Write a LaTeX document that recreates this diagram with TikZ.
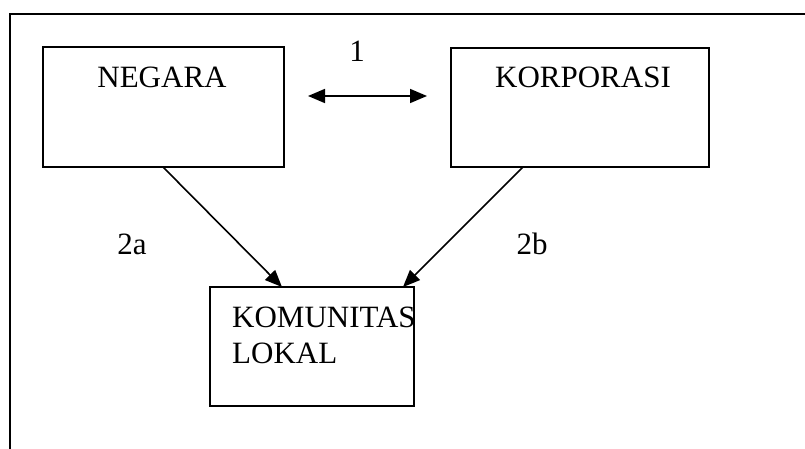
\documentclass[tikz,border=0pt]{standalone}
\usepackage{fontspec}
\setmainfont{Liberation Serif}
\usetikzlibrary{arrows.meta}
\tikzset{
  box/.style={draw, line width=1.8pt, inner sep=0pt},
  lbl/.style={font=\fontsize{31}{36}\selectfont, inner sep=0pt, anchor=base},
  conn/.style={line width=1.6pt, -{Triangle[length=17pt,width=14pt]}},
  frame/.style={line width=2.4pt}
}
\begin{document}
\begin{tikzpicture}[x=1pt,y=-1pt]
\useasboundingbox (0,0) rectangle (805,449);
% open outer frame: top edge and left edge only
\coordinate (ftl) at (10,14);
\coordinate (ftr) at (805,14);
\coordinate (fbl) at (10,449);
\draw[frame] (ftr) -- (ftl) -- (fbl);

% boxes
\node[box, minimum width=241pt, minimum height=120pt] (neg) at (163.5,107) {};
\node[box, minimum width=258pt, minimum height=119pt] (kor) at (580,107.5) {};
\node[box, minimum width=204pt, minimum height=119pt] (kom) at (312,346.5) {};

% box texts
\node[lbl] (negt) at (162,88) {NEGARA};
\node[lbl] (kort) at (583,88) {KORPORASI};
\node[lbl, anchor=base west] (komt1) at (232,327) {KOMUNITAS};
\node[lbl, anchor=base west] (komt2) at (232,363) {LOKAL};

% relation 1: both directions
\coordinate (a1l) at (308,96);
\coordinate (a1r) at (427,96);
\draw[line width=1.6pt, {Triangle[length=17pt,width=14pt]}-{Triangle[length=17pt,width=14pt]}] (a1l) -- (a1r);
\node[lbl] (one) at (357,62) {1};

% relations 2a and 2b
\coordinate (s2a) at (163,167);
\coordinate (t2a) at (282,287);
\coordinate (s2b) at (523,167);
\coordinate (t2b) at (403,287);
\draw[conn] (s2a) -- (t2a);
\draw[conn] (s2b) -- (t2b);
\node[lbl] (l2a) at (132,254) {2a};
\node[lbl] (l2b) at (532,254) {2b};
\end{tikzpicture}
\end{document}
